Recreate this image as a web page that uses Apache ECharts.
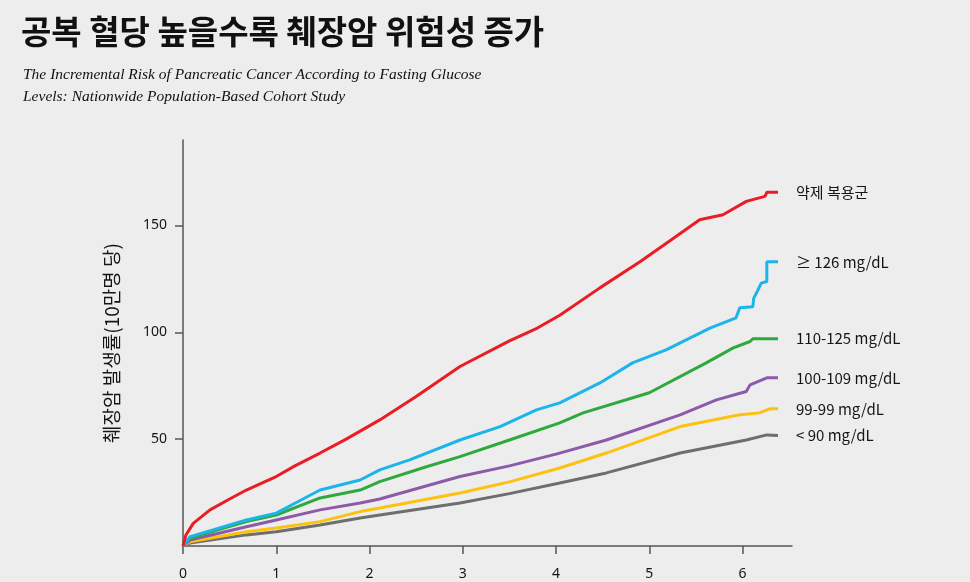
<!DOCTYPE html>
<html>
<head>
<meta charset="utf-8">
<script src="https://cdn.jsdelivr.net/npm/echarts@6/dist/echarts.min.js"></script>
<style>
html,body{margin:0;padding:0;background:#ededed;}
#c{width:970px;height:582px;}
</style>
</head>
<body>
<div id="c"></div>
<script>
// ---- data ----
var titleText = '공복 혈당 높을수록 췌장암 위험성 증가';
var subtitleText = 'The Incremental Risk of Pancreatic Cancer According to Fasting Glucose\nLevels: Nationwide Population-Based Cohort Study';
var yAxisName = '췌장암 발생률(10만명 당)';
var seriesNames = ['약제 복용군', '≥ 126 mg/dL', '110-125 mg/dL', '100-109 mg/dL', '99-99 mg/dL', '< 90 mg/dL'];
var seriesColors = ['#ea1c24', '#1cb5ea', '#2eaa3c', '#8d5aa9', '#fcc20f', '#6e6e6e'];

var medicated = [[0,0],[0.03,5],[0.11,10.6],[0.29,16.9],[0.5,22],[0.68,26.2],[0.85,29.5],[1.0,32.5],[1.2,37.5],[1.47,43.5],[1.75,50],[2.11,59],[2.5,70],[2.97,84],[3.5,96],[3.8,102],[4.04,108],[4.47,120.8],[4.9,133],[5.29,145],[5.54,152.7],[5.79,155],[6.04,161.3],[6.24,163.6],[6.26,165.5],[6.38,165.5]];
var g126 = [[0,0],[0.075,4.4],[0.32,7.5],[0.68,12.2],[1.0,15.4],[1.2,20],[1.47,26.2],[1.9,30.9],[2.11,35.6],[2.43,40.3],[2.97,49.6],[3.4,55.9],[3.79,63.7],[4.04,67],[4.47,76.3],[4.82,85.7],[5.18,91.8],[5.65,102],[5.93,106.8],[5.97,111.5],[6.11,112],[6.12,116],[6.15,118.5],[6.2,123],[6.26,123.8],[6.26,133],[6.38,133]];
var g110 = [[0,0],[0.075,3.7],[0.68,11.4],[1.0,14.5],[1.47,22.5],[1.9,26.2],[2.11,30.1],[2.61,37.1],[2.97,41.8],[3.5,49.6],[4.04,57.6],[4.29,62.3],[5.0,71.7],[5.61,85.7],[5.9,92.7],[6.08,95.7],[6.11,97],[6.38,97]];
var g100 = [[0,0],[0.075,2.8],[0.68,9],[1.0,12.2],[1.47,16.9],[1.9,20.1],[2.11,22],[2.97,32.5],[3.5,37.5],[4.0,43],[4.54,49.6],[5.33,61.4],[5.72,68.4],[6.04,72.3],[6.08,75.4],[6.26,78.7],[6.38,78.7]];
var g90 = [[0,0],[0.075,2],[0.68,6.7],[1.0,8.4],[1.47,11.4],[1.9,16.1],[2.11,17.8],[2.97,24.8],[3.5,30],[4.04,36.5],[4.54,43.5],[5.33,55.9],[5.97,61.4],[6.18,62.3],[6.29,64.2],[6.38,64.2]];
var lt90 = [[0,0],[0.075,1.4],[0.68,5.2],[1.0,6.7],[1.47,9.8],[1.9,13.1],[2.11,14.5],[2.97,20.1],[3.5,24.5],[4.04,29.5],[4.54,34.2],[5.33,43.5],[6.04,49.6],[6.26,52],[6.38,51.7]];
var allData = [medicated, g126, g110, g100, g90, lt90];

var chart = echarts.init(document.getElementById('c'), null, {renderer: 'canvas'});
var series = allData.map(function(d, i){
  return {
    name: seriesNames[i],
    type: 'line',
    data: d,
    showSymbol: false,
    symbol: 'none',
    z: 10 - i,
    lineStyle: {color: seriesColors[i], width: 3},
    itemStyle: {color: seriesColors[i]},
    endLabel: {
      show: true,
      formatter: seriesNames[i],
      distance: 18,
      color: '#151515',
      fontSize: 15,
      fontFamily: 'Noto Sans CJK KR'
    },
    animation: false
  };
});

chart.setOption({
  backgroundColor: '#ededed',
  animation: false,
  title: [{
    text: titleText,
    left: 16, top: 10,
    textStyle: {fontFamily: 'Noto Sans CJK KR', fontWeight: 'bold', fontSize: 33, color: '#111'}
  }, {
    text: subtitleText,
    left: 18, top: 59,
    textStyle: {fontFamily: 'Liberation Serif', fontStyle: 'italic', fontWeight: 'normal', fontSize: 15.5, lineHeight: 22, color: '#111'}
  }],
  grid: {left: 183, right: 178, top: 140, bottom: 36, containLabel: false},
  xAxis: {
    type: 'value', min: 0, max: 6.53, interval: 1,
    axisLine: {show: true, lineStyle: {color: '#555', width: 1.5}},
    axisTick: {show: true, length: 8, lineStyle: {color: '#555', width: 1.5}},
    axisLabel: {margin: 21, color: '#151515', fontSize: 14, fontFamily: 'Noto Sans', showMaxLabel: false},
    splitLine: {show: false}
  },
  yAxis: {
    type: 'value', min: 0, max: 190, interval: 50,
    name: yAxisName, nameLocation: 'middle', nameGap: 62, nameRotate: 90,
    nameTextStyle: {fontFamily: 'Noto Sans CJK KR', fontSize: 19, color: '#151515'},
    axisLine: {show: true, lineStyle: {color: '#555', width: 1.5}},
    axisTick: {show: true, length: 8, lineStyle: {color: '#555', width: 1.5}},
    axisLabel: {margin: 16, color: '#151515', fontSize: 14, fontFamily: 'Noto Sans', showMinLabel: false, showMaxLabel: false},
    splitLine: {show: false}
  },
  series: series
});
</script>
</body>
</html>
